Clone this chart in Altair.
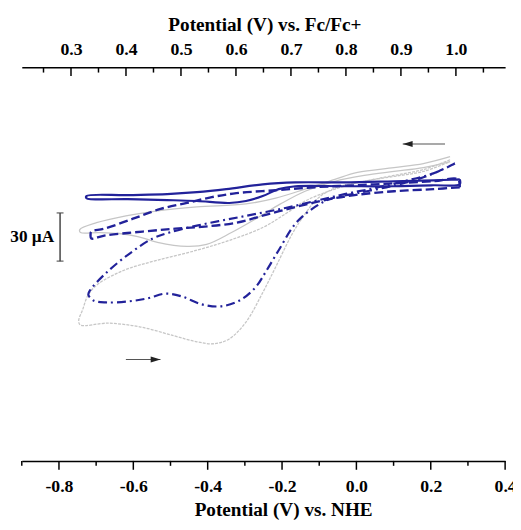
import altair as alt
import pandas as pd

NAVY = "#22229a"
GRAY = "#c6c6c6"
FONT = "Liberation Serif"

# ---- axes ----
NHE_DOMAIN = [-0.9, 0.4]
FC_DOMAIN = [0.2105, 1.0895]
I_DOMAIN = [-170, 75]
nhe_major = [-0.8, -0.6, -0.4, -0.2, 0.0, 0.2, 0.4]
nhe_minor = [-0.9, -0.7, -0.5, -0.3, -0.1, 0.1, 0.3]
fc_major = [0.3, 0.4, 0.5, 0.6, 0.7, 0.8, 0.9, 1.0]
fc_minor = [0.25, 0.35, 0.45, 0.55, 0.65, 0.75, 0.85, 0.95, 1.05]

# ---- curves: potential (V vs NHE), current (uA) ----
solid_v = [0.278, 0.207, 0.101, -0.032, -0.164, -0.252, -0.350, -0.429, -0.509, -0.615, -0.726,
           -0.726, -0.615, -0.509, -0.429, -0.342, -0.297, -0.252, -0.209, -0.164, -0.032, 0.101, 0.207, 0.278, 0.278]
solid_i = [5.2, 4.6, 4.0, 3.3, 3.3, 2.1, -0.9, -2.8, -4.0, -4.6, -5.2,
           -6.5, -7.1, -7.7, -8.3, -9.5, -8.3, -5.2, -0.9, 0.9, 0.9, 0.9, 1.5, 2.1, 5.2]

dash_v = [0.278, 0.207, 0.101, -0.005, -0.085, -0.164, -0.244, -0.323, -0.408, -0.487, -0.575, -0.678, -0.713,
          -0.715, -0.713, -0.678, -0.601, -0.527, -0.456, -0.389, -0.323, -0.217, -0.111, -0.005, 0.101, 0.207, 0.273, 0.278]
dash_i = [0.3, -0.9, -2.2, -4.6, -7.7, -12.0, -16.9, -21.8, -24.2, -25.5, -27.3, -29.8, -31.6,
          -29.2, -27.3, -25.5, -19.3, -13.2, -9.5, -5.9, -3.4, -1.6, 0.3, 1.5, 2.7, 4.0, 5.2, 0.3]

dashdot_v = [0.265, 0.207, 0.127, 0.048, -0.032, -0.111, -0.191, -0.270, -0.350, -0.429, -0.503, -0.548, -0.609,
             -0.673, -0.715, -0.721, -0.707, -0.673, -0.615, -0.562, -0.514, -0.469, -0.416, -0.363, -0.310,
             -0.270, -0.244, -0.209, -0.164, -0.119, -0.072, 0.003, 0.093, 0.172, 0.220, 0.265]
dashdot_i = [15.0, 8.9, 4.0, -0.3, -4.0, -8.3, -12.6, -16.3, -19.9, -23.6, -27.9, -31.6, -40.8,
             -53.0, -63.4, -66.5, -70.2, -71.4, -70.8, -68.9, -65.9, -67.7, -72.6, -73.8, -69.6,
             -61.6, -52.4, -38.9, -22.4, -13.2, -7.1, -3.4, 0.9, 5.8, 10.1, 15.0]

gray_small_v = [0.252, 0.180, 0.101, 0.003, -0.058, -0.138, -0.217, -0.297, -0.429, -0.535, -0.620, -0.699, -0.744,
                -0.742, -0.694, -0.638, -0.588, -0.535, -0.456, -0.403, -0.336, -0.270, -0.204, -0.138, -0.058,
                0.021, 0.101, 0.180, 0.252]
gray_small_i = [19.3, 15.0, 12.5, 9.5, 5.2, -0.9, -6.5, -10.1, -12.0, -14.4, -17.5, -21.8, -26.1,
                -27.9, -27.9, -28.5, -30.4, -34.0, -36.5, -35.3, -27.9, -19.3, -10.1, -2.2, 4.0,
                7.6, 10.1, 12.5, 16.2]

gray_big_v = [0.252, 0.180, 0.101, 0.021, -0.058, -0.103, -0.138, -0.172, -0.217, -0.252, -0.297, -0.342, -0.384,
              -0.429, -0.490, -0.580, -0.668, -0.742, -0.747, -0.736, -0.721, -0.694, -0.623, -0.535, -0.429,
              -0.342, -0.252, -0.191, -0.138, -0.058, 0.021, 0.101, 0.180, 0.252]
gray_big_i = [17.4, 11.3, 7.6, 4.0, -0.3, -6.5, -16.3, -28.5, -49.3, -65.3, -83.6, -94.1, -97.1,
              -95.9, -92.2, -86.7, -84.3, -85.5, -83.0, -75.7, -66.5, -59.8, -51.2, -45.1, -38.9,
              -32.8, -24.8, -16.3, -8.3, -0.9, 4.0, 7.0, 10.1, 16.2]

# ---- annotations ----
bar_v = [-0.797]
bar_top = [-15.7]
bar_bot = [-45.7]
bar_label = ["30 \u00b5A"]
arrow_v1 = [-0.620, 0.1245]
arrow_v2 = [-0.527, 0.2384]
arrow_i = [-106.9, 27.2]
head_v = [-0.540, 0.138]
head_dir = ["right", "left"]


def xs():
    return alt.Scale(domain=NHE_DOMAIN, nice=False, zero=False)


def ys():
    return alt.Scale(domain=I_DOMAIN, nice=False, zero=False)


def fxs():
    return alt.Scale(domain=FC_DOMAIN, nice=False, zero=False)


bottom_axis = alt.Axis(
    orient="bottom", values=nhe_major, ticks=False, grid=False,
    domainColor="black", domainWidth=1.5,
    labelFont=FONT, labelFontWeight="bold", labelFontSize=18, labelColor="black",
    labelBaseline="alphabetic", labelPadding=31, labelFlush=False, labelOverlap=False,
    labelExpr="(datum.value < -0.001 ? '-' : '') + format(abs(datum.value), '.1f')",
    title="Potential (V) vs. NHE", titleFont=FONT, titleFontWeight="bold", titleFontSize=19.5,
    titleColor="black", titleBaseline="alphabetic", titleAlign="center", titleX=265.5, titleY=55,
)
top_axis = alt.Axis(
    orient="top", values=fc_major, ticks=False, grid=False,
    domainColor="black", domainWidth=1.5,
    labelFont=FONT, labelFontWeight="bold", labelFontSize=18, labelColor="black",
    labelBaseline="alphabetic", labelPadding=13, labelFlush=False, labelOverlap=False,
    format=".1f",
    title="Potential (V) vs. Fc/Fc+", titleFont=FONT, titleFontWeight="bold", titleFontSize=19.5,
    titleColor="black", titleBaseline="alphabetic", titleAlign="center", titleX=246.5, titleY=-37,
)


def curve(v, i, color, width, dash=None, axis=None):
    df = pd.DataFrame({"V": v, "I": i, "k": list(range(len(v)))})
    kw = dict(color=color, strokeWidth=width, interpolate="catmull-rom")
    if dash is not None:
        kw["strokeDash"] = dash
    return alt.Chart(df).mark_line(**kw).encode(
        x=alt.X("V:Q", scale=xs(), axis=axis),
        y=alt.Y("I:Q", scale=ys(), axis=None),
        order="k:Q",
    )


g_big = curve(gray_big_v, gray_big_i, GRAY, 1.3, dash=[3, 1.2], axis=bottom_axis)
g_small = curve(gray_small_v, gray_small_i, GRAY, 1.3)
c_dashdot = curve(dashdot_v, dashdot_i, NAVY, 2.2, dash=[9, 4, 2, 4])
c_dash = curve(dash_v, dash_i, NAVY, 2.4, dash=[9, 4])
c_solid = curve(solid_v, solid_i, NAVY, 2.2)

bar_df = pd.DataFrame({"V": bar_v, "I1": bar_top, "I2": bar_bot, "t": bar_label})
bar = alt.Chart(bar_df).mark_rule(color="#444", strokeWidth=1.5).encode(
    x=alt.X("V:Q", scale=xs(), axis=None), y=alt.Y("I1:Q", scale=ys(), axis=None), y2="I2:Q")
caps_df = pd.DataFrame({"V": bar_v * 2, "I": bar_top + bar_bot})
caps = alt.Chart(caps_df).mark_tick(orient="horizontal", size=7, thickness=1.5, color="#444").encode(
    x=alt.X("V:Q", scale=xs(), axis=None), y=alt.Y("I:Q", scale=ys(), axis=None))
bar_text = alt.Chart(bar_df).transform_calculate(mid="(datum.I1 + datum.I2) / 2").mark_text(
    font=FONT, fontWeight="bold", fontSize=17.5, color="black", align="right", baseline="middle", dx=-6
).encode(x=alt.X("V:Q", scale=xs(), axis=None), y=alt.Y("mid:Q", scale=ys(), axis=None), text="t:N")

arr_df = pd.DataFrame({"V1": arrow_v1, "V2": arrow_v2, "I": arrow_i})
arrows = alt.Chart(arr_df).mark_rule(color="#555", strokeWidth=1.2).encode(
    x=alt.X("V1:Q", scale=xs(), axis=None), x2="V2:Q", y=alt.Y("I:Q", scale=ys(), axis=None))
heads = []
for hv, hi, d in zip(head_v, arrow_i, head_dir):
    shape = "M1,0L-1,-0.6L-1,0.6Z" if d == "right" else "M-1,0L1,-0.6L1,0.6Z"
    hdf = pd.DataFrame({"V": [hv], "I": [hi]})
    heads.append(alt.Chart(hdf).mark_point(shape=shape, size=100, filled=True, color="#222", opacity=1).encode(
        x=alt.X("V:Q", scale=xs(), axis=None), y=alt.Y("I:Q", scale=ys(), axis=None)))

# bottom ticks (outward)
bmaj = alt.Chart(pd.DataFrame({"v": nhe_major})).mark_rule(color="black", strokeWidth=1.5).encode(
    x=alt.X("v:Q", scale=xs(), axis=None), y=alt.value(400), y2=alt.value(409))
bmin = alt.Chart(pd.DataFrame({"v": nhe_minor})).mark_rule(color="black", strokeWidth=1.5).encode(
    x=alt.X("v:Q", scale=xs(), axis=None), y=alt.value(400), y2=alt.value(405))

# top axis (Fc/Fc+) with inward ticks
tmaj = alt.Chart(pd.DataFrame({"f": fc_major})).mark_rule(color="black", strokeWidth=1.5).encode(
    x=alt.X("f:Q", scale=fxs(), axis=top_axis), y=alt.value(0), y2=alt.value(9))
tmin = alt.Chart(pd.DataFrame({"f": fc_minor})).mark_rule(color="black", strokeWidth=1.5).encode(
    x=alt.X("f:Q", scale=fxs(), axis=None), y=alt.value(0), y2=alt.value(5.5))

chart = alt.layer(
    g_big, g_small, c_dashdot, c_dash, c_solid, bar, caps, bar_text, arrows, *heads, bmaj, bmin, tmaj, tmin
).resolve_scale(x="independent").properties(
    width=491, height=400,
    autosize=alt.AutoSizeParams(type="none"),
    padding={"left": 14, "top": 56, "right": 8, "bottom": 60},
    background="white",
).configure_view(stroke=None)

chart.save("out.html", embed_options={"renderer": "svg", "actions": False})
